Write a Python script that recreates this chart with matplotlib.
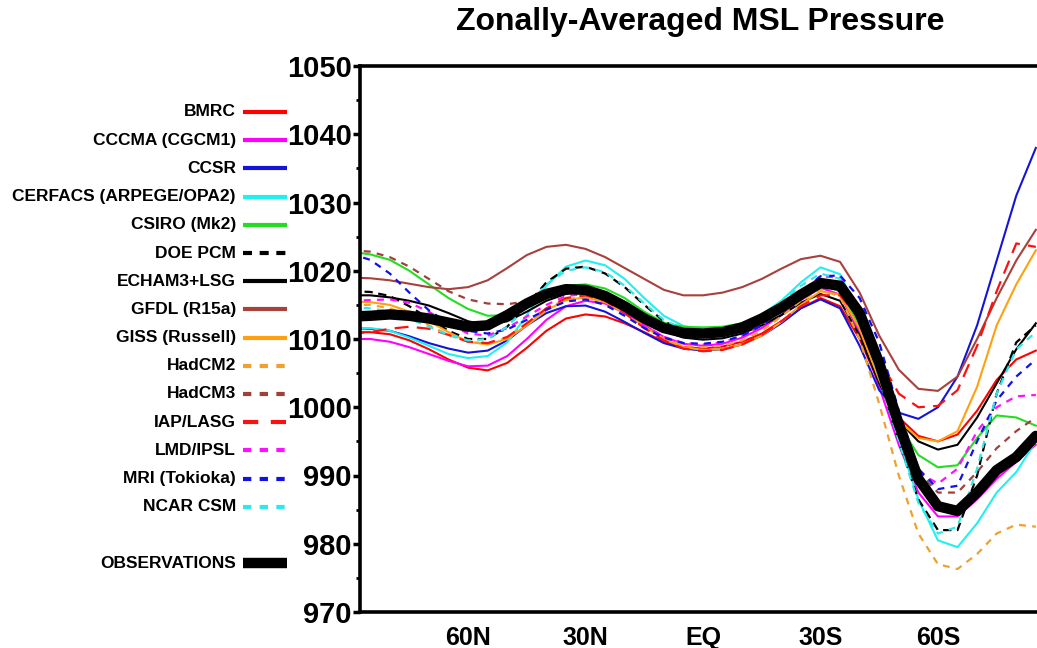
import matplotlib
matplotlib.use("Agg")
import matplotlib.pyplot as plt
from matplotlib.ticker import MultipleLocator, FixedLocator

plt.rcParams['font.family'] = ['Liberation Sans', 'DejaVu Sans']
plt.rcParams['lines.scale_dashes'] = False

# Latitude (positive = N, negative = S)
lat = [90, 85, 80, 75, 70, 65, 60, 55, 50, 45, 40, 35, 30, 25, 20, 15, 10, 5, 0,
       -5, -10, -15, -20, -25, -30, -35, -40, -45, -50, -55, -60, -65, -70, -75, -80, -85]

bmrc = [1011.0, 1011.0, 1010.7, 1009.8, 1008.5, 1007.0, 1005.8, 1005.4, 1006.5, 1008.7, 1011.2, 1013.0,
        1013.6, 1013.3, 1012.3, 1011.0, 1009.6, 1008.8, 1008.6, 1008.9, 1009.6, 1010.8, 1012.6, 1014.5,
        1016.0, 1014.8, 1010.0, 1003.5, 998.5, 995.8, 995.0, 996.0, 999.5, 1004.0, 1007.0, 1008.3]
cccma = [1010.0, 1010.0, 1009.6, 1008.8, 1007.8, 1006.8, 1006.0, 1006.1, 1007.5, 1010.0, 1012.8, 1014.8,
         1015.6, 1015.2, 1013.8, 1012.0, 1010.3, 1009.3, 1009.0, 1009.3, 1010.2, 1011.6, 1013.5, 1015.7,
         1017.5, 1016.5, 1011.0, 1003.0, 994.5, 987.5, 984.0, 984.0, 986.5, 989.5, 992.0, 994.5]
ccsr = [1011.6, 1011.5, 1011.2, 1010.4, 1009.4, 1008.6, 1008.0, 1008.3, 1009.8, 1012.0, 1013.8, 1014.8,
        1014.9, 1014.0, 1012.5, 1010.9, 1009.4, 1008.6, 1008.3, 1008.5, 1009.2, 1010.5, 1012.3, 1014.5,
        1015.8, 1014.5, 1009.0, 1002.5, 999.2, 998.3, 1000.0, 1004.5, 1012.0, 1021.5, 1031.0, 1038.0]
cerfacs = [1011.6, 1011.6, 1011.2, 1010.2, 1009.0, 1007.8, 1007.2, 1007.5, 1009.5, 1013.5, 1017.8, 1020.6,
           1021.5, 1020.8, 1018.8, 1016.0, 1013.4, 1011.9, 1011.3, 1011.4, 1012.2, 1013.6, 1015.6, 1018.3,
           1020.5, 1019.5, 1013.5, 1005.0, 995.5, 986.5, 980.5, 979.5, 983.0, 987.5, 990.5, 995.0]
csiro = [1022.8, 1022.4, 1021.6, 1020.0, 1018.0, 1016.0, 1014.4, 1013.4, 1013.5, 1014.8, 1016.6, 1017.8,
         1018.0, 1017.4, 1016.0, 1014.0, 1012.4, 1011.8, 1011.7, 1011.8, 1012.3, 1013.3, 1014.8, 1016.6,
         1018.0, 1017.0, 1012.0, 1004.5, 997.5, 993.0, 991.2, 991.5, 995.5, 998.8, 998.5, 997.3]
doe_pcm = [1017.0, 1016.9, 1016.3, 1014.8, 1013.0, 1011.2, 1010.0, 1010.0, 1011.8, 1015.0, 1018.3, 1020.3,
           1020.6, 1019.6, 1017.6, 1015.0, 1012.6, 1011.2, 1010.8, 1011.0, 1011.7, 1013.0, 1014.8, 1017.0,
           1018.6, 1017.6, 1012.5, 1004.5, 995.0, 986.5, 982.0, 982.0, 990.0, 1002.0, 1009.5, 1012.0]
echam = [1016.4, 1016.4, 1016.1, 1015.6, 1014.9, 1013.8, 1012.6, 1012.0, 1012.6, 1014.0, 1015.6, 1016.6,
         1016.9, 1016.2, 1014.8, 1013.0, 1011.2, 1010.2, 1009.9, 1010.1, 1010.8, 1012.0, 1013.5, 1015.3,
         1016.6, 1015.6, 1010.5, 1003.5, 998.0, 995.0, 993.8, 994.5, 998.5, 1003.5, 1008.5, 1012.3]
gfdl = [1019.0, 1018.9, 1018.6, 1018.1, 1017.6, 1017.3, 1017.6, 1018.6, 1020.4, 1022.3, 1023.5, 1023.8,
        1023.2, 1022.0, 1020.4, 1018.8, 1017.2, 1016.4, 1016.4, 1016.8, 1017.6, 1018.8, 1020.3, 1021.7,
        1022.2, 1021.3, 1016.8, 1010.5, 1005.5, 1002.7, 1002.4, 1004.5, 1010.0, 1016.0, 1021.5, 1026.0]
giss = [1015.5, 1015.4, 1015.0, 1014.0, 1012.6, 1011.0, 1009.6, 1009.2, 1010.0, 1012.0, 1014.2, 1015.7,
        1016.1, 1015.4, 1013.8, 1011.8, 1010.0, 1008.8, 1008.4, 1008.5, 1009.2, 1010.5, 1012.5, 1015.0,
        1017.0, 1016.5, 1011.5, 1004.0, 998.0, 995.5, 995.0, 996.5, 1003.0, 1012.0, 1018.0, 1023.0]
hadcm2 = [1015.0, 1015.0, 1014.5, 1013.4, 1012.0, 1010.6, 1009.6, 1009.3, 1010.2, 1012.2, 1014.4, 1015.8,
          1016.2, 1015.6, 1014.0, 1012.0, 1010.2, 1009.1, 1008.8, 1009.0, 1009.8, 1011.2, 1013.3, 1015.6,
          1017.3, 1016.2, 1010.0, 1000.5, 990.0, 981.5, 977.0, 976.3, 978.5, 981.5, 982.8, 982.5]
hadcm3 = [1023.0, 1022.8, 1022.0, 1020.6, 1018.8, 1017.0, 1015.8, 1015.2, 1015.1, 1015.5, 1016.5, 1017.3,
          1017.4, 1016.6, 1015.0, 1013.2, 1011.6, 1010.8, 1010.6, 1010.8, 1011.4, 1012.6, 1014.3, 1016.4,
          1018.0, 1017.2, 1012.5, 1005.0, 997.0, 990.5, 987.5, 987.5, 990.5, 994.0, 996.5, 998.5]
iap = [1010.8, 1011.0, 1011.5, 1011.8, 1011.5, 1010.6, 1009.6, 1009.4, 1010.3, 1012.3, 1014.5, 1016.0,
       1016.4, 1015.6, 1013.8, 1011.6, 1009.8, 1008.6, 1008.2, 1008.4, 1009.2, 1010.6, 1012.6, 1014.8,
       1016.4, 1016.4, 1013.0, 1007.0, 1002.0, 1000.0, 1000.2, 1002.5, 1009.0, 1017.0, 1024.0, 1023.5]
lmd = [1015.6, 1015.7, 1015.8, 1015.3, 1014.0, 1012.2, 1010.8, 1010.5, 1011.6, 1013.3, 1015.0, 1016.3,
       1016.6, 1015.8, 1014.0, 1012.0, 1010.3, 1009.4, 1009.2, 1009.5, 1010.4, 1012.0, 1014.2, 1016.8,
       1019.2, 1019.0, 1014.0, 1005.5, 996.5, 990.5, 988.8, 991.0, 996.5, 1000.0, 1001.6, 1001.8]
mri = [1022.5, 1021.6, 1019.6, 1016.8, 1014.2, 1012.3, 1011.2, 1010.8, 1011.4, 1012.8, 1014.3, 1015.5,
       1015.8, 1015.0, 1013.4, 1011.6, 1010.2, 1009.4, 1009.3, 1009.6, 1010.5, 1012.0, 1014.2, 1016.8,
       1019.2, 1019.3, 1016.0, 1009.5, 999.5, 991.0, 988.0, 988.5, 995.0, 1001.0, 1004.5, 1007.0]
ncar = [1014.6, 1014.5, 1014.0, 1013.0, 1011.8, 1010.6, 1009.8, 1010.0, 1011.8, 1014.8, 1018.0, 1020.0,
        1020.5, 1019.8, 1017.8, 1015.2, 1012.8, 1011.4, 1011.0, 1011.2, 1012.0, 1013.4, 1015.4, 1017.8,
        1019.6, 1018.8, 1013.0, 1004.5, 995.0, 986.0, 981.5, 982.5, 991.0, 1002.0, 1008.5, 1011.0]
obs = [1013.3, 1013.4, 1013.6, 1013.4, 1013.0, 1012.4, 1011.8, 1012.0, 1013.5, 1015.2, 1016.6, 1017.3,
       1017.2, 1016.3, 1014.8, 1013.0, 1011.6, 1010.9, 1010.8, 1011.0, 1011.7, 1013.0, 1014.6, 1016.5,
       1018.2, 1017.8, 1013.8, 1006.5, 997.5, 989.5, 985.5, 984.8, 987.5, 990.8, 992.7, 995.8]

labels = ["BMRC", "CCCMA (CGCM1)", "CCSR", "CERFACS (ARPEGE/OPA2)", "CSIRO (Mk2)", "DOE PCM",
          "ECHAM3+LSG", "GFDL (R15a)", "GISS (Russell)", "HadCM2", "HadCM3", "IAP/LASG",
          "LMD/IPSL", "MRI (Tokioka)", "NCAR CSM"]
series = [bmrc, cccma, ccsr, cerfacs, csiro, doe_pcm, echam, gfdl, giss, hadcm2, hadcm3, iap, lmd, mri, ncar]
colors = ["#ff0000", "#ff00ff", "#1414d8", "#22f0f0", "#22dd22", "#000000", "#000000", "#a8403c",
          "#ffa010", "#f0a030", "#a0403c", "#ff1010", "#ff10ff", "#1010e8", "#30e8e8"]
dash = {"DOE PCM": (6, 4), "HadCM2": (5, 4.5), "HadCM3": (5, 4.5), "IAP/LASG": (10, 6),
        "LMD/IPSL": (5, 4.5), "MRI (Tokioka)": (5, 4.5), "NCAR CSM": (5, 4.5)}
leg_dash = {"DOE PCM": (6.5, 5.5), "HadCM2": (6, 6), "HadCM3": (6, 6), "IAP/LASG": (11, 9),
            "LMD/IPSL": (6, 6), "MRI (Tokioka)": (6, 6), "NCAR CSM": (6, 6)}

xticks = [60, 30, 0, -30, -60]
xticklabels = ["60N", "30N", "EQ", "30S", "60S"]

W, H = 1037, 648
fig = plt.figure(figsize=(W / 100, H / 100), dpi=100)
ax = fig.add_axes([360 / W, 1 - 612 / H, (W + 10 - 360) / W, (612 - 66) / H])

for lab, s, c in zip(labels, series, colors):
    if lab in dash:
        ax.plot(lat, s, color=c, lw=1.6, dashes=dash[lab])
    else:
        ax.plot(lat, s, color=c, lw=1.5)
ax.plot(lat, obs, color="black", lw=7.5, solid_joinstyle="round", solid_capstyle="round")

ax.set_xlim(87.6, -87.85)
ax.set_ylim(970, 1050)
ax.yaxis.set_major_locator(MultipleLocator(10))
ax.yaxis.set_minor_locator(MultipleLocator(5))
ax.xaxis.set_major_locator(FixedLocator(xticks))
ax.set_xticklabels(xticklabels)
ax.tick_params(axis="y", which="major", labelsize=21, length=5, width=2.5, pad=1, direction="out")
ax.tick_params(axis="y", which="minor", length=3, width=2, direction="out")
ax.tick_params(axis="x", which="major", labelsize=18, length=0, pad=10)
for t in ax.get_yticklabels() + ax.get_xticklabels():
    t.set_fontweight("bold")
for side in ["left", "top", "bottom"]:
    ax.spines[side].set_linewidth(2.6)
ax.spines["right"].set_visible(False)

fig.text(700 / W, 1 - 22 / H, "Zonally-Averaged MSL Pressure", ha="center", va="center",
         fontsize=23, fontweight="bold")

# Legend drawn in pixel coordinates on an overlay
lax = fig.add_axes([0, 0, 1, 1], zorder=-1)
lax.set_xlim(0, W)
lax.set_ylim(H, 0)
lax.axis("off")
y0, dy = 112, 28.2
for i, (lab, c) in enumerate(zip(labels, colors)):
    yy = y0 + i * dy
    if lab in leg_dash:
        lax.plot([243, 287], [yy, yy], color=c, lw=3, dashes=leg_dash[lab], solid_capstyle="butt")
    else:
        lax.plot([243, 287], [yy, yy], color=c, lw=3, solid_capstyle="butt")
    lax.text(236, yy, lab, ha="right", va="center", fontsize=12.5, fontweight="bold")
lax.plot([243, 287], [563, 563], color="black", lw=7.5, solid_capstyle="butt")
lax.text(236, 563, "OBSERVATIONS", ha="right", va="center", fontsize=12.5, fontweight="bold")

fig.savefig("out.png", dpi=100)
